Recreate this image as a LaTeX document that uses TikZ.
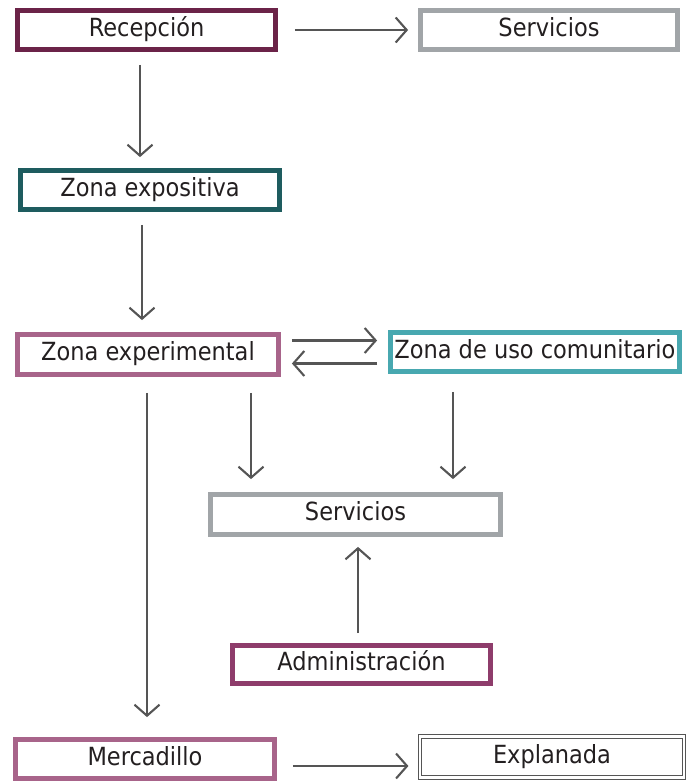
\documentclass[tikz,border=0pt]{standalone}
\usepackage{fontspec}
\setmainfont{DejaVu Sans Condensed}
\usepackage{tikz}
\usetikzlibrary{arrows.meta,positioning}
\definecolor{cRecep}{HTML}{6B2348}
\definecolor{cServ}{HTML}{A1A5A8}
\definecolor{cExpo}{HTML}{1E5C5F}
\definecolor{cExper}{HTML}{A8648A}
\definecolor{cUso}{HTML}{48A8B0}
\definecolor{cAdmin}{HTML}{8E3C6B}
\definecolor{cArrow}{HTML}{555555}
\definecolor{cText}{HTML}{231F20}
\tikzset{
  zona/.style={ draw, line width=4.8pt, minimum height=39pt, text=cText, font=\fontsize{25}{28}\selectfont, text height=18pt, text depth=6pt, inner sep=0pt }
}
\tikzset{
  zonadbl/.style={ draw=cArrow, line width=1.1pt, double, double distance=2.5pt, minimum height=41pt, text=cText, font=\fontsize{25}{28}\selectfont, text height=18pt, text depth=6pt, inner sep=0pt }
}
\tikzset{
  flecha/.style={ draw=cArrow, line width=2.1pt, -{Straight Barb[length=11pt,width=25pt,line width=2.1pt]} }
}

\begin{document}
\begin{tikzpicture}[x=1pt, y=-1pt]
      \useasboundingbox (0,0) rectangle (694,782);

      \node[zona, draw=cRecep, minimum width=258pt] (recep) at (146.5, 30) {Recepción};
      \node[zona, draw=cServ, minimum width=257pt] (serv1) at (549, 30) {Servicios};

      \node[zona, draw=cExpo, minimum width=259pt] (expo) at (150, 190) {Zona expositiva};

      \node[zona, draw=cExper, minimum width=261pt, minimum height=40pt] (exper) at (148, 354.5) {Zona experimental};
      \node[zona, draw=cUso, minimum width=289pt] (uso) at (535, 352) {Zona de uso comunitario};

      \node[zona, draw=cServ, minimum width=290pt, minimum height=40pt] (serv2) at (355.5, 514.5) {Servicios};
      \node[zona, draw=cAdmin, minimum width=258pt, minimum height=38pt] (admin) at (361.5, 664.5) {Administración};

      \node[zona, draw=cExper, minimum width=259pt] (merc) at (145, 759) {Mercadillo};
      \node[zonadbl, minimum width=264pt] (expl) at (552, 757) {Explanada};

      \begin{scope}[flecha]
        \draw[shorten <=17pt, shorten >=10pt] (recep.east) -- (recep.east -| serv1.west);
        \draw[shorten <=13pt, shorten >=11pt] ([xshift=-6.5pt]recep.south) -- ([xshift=-6.5pt]recep.south |- expo.north);

        \draw[shorten <=13pt, shorten >=12pt] ([xshift=-8pt]expo.south) -- ([xshift=-8pt]expo.south |- exper.north);

        \draw[shorten <=11pt, shorten >=11pt] ([yshift=14pt]exper.east) -- ([yshift=14pt]exper.east -| uso.west);
        \draw[shorten <=11pt, shorten >=11pt] ([yshift=-11.5pt]uso.west) -- ([yshift=-11.5pt]uso.west -| exper.east);

        \draw[shorten <=16pt, shorten >=20pt] ([xshift=-1pt]exper.south) -- ([xshift=-1pt]exper.south |- merc.north);
        \draw[shorten <=16pt, shorten >=13pt] ([xshift=103pt]exper.south) -- ([xshift=103pt]exper.south |- serv2.north);
        \draw[shorten <=18pt, shorten >=13pt] ([xshift=-82pt]uso.south) -- ([xshift=-82pt]uso.south |- serv2.north);

        \draw[shorten <=10pt, shorten >=10pt] ([xshift=-3.5pt]admin.north) -- ([xshift=-3.5pt]admin.north |- serv2.south);

        \draw[shorten <=16pt, shorten >=11pt] ([yshift=-7pt]merc.east) -- ([yshift=-7pt]merc.east -| expl.west);
      \end{scope}
    \end{tikzpicture}
\end{document}
